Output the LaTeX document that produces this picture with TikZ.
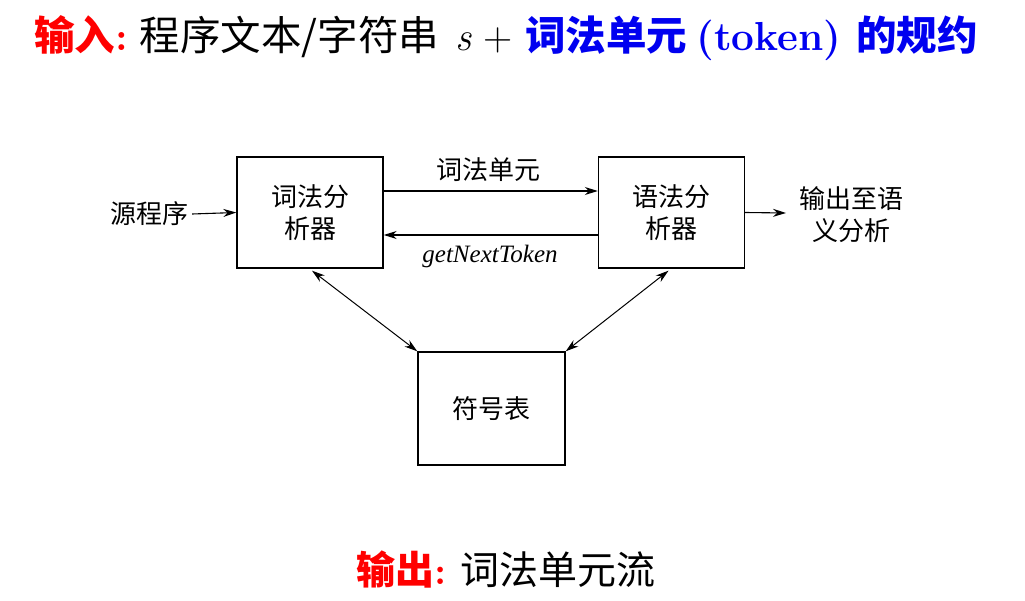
\documentclass[tikz,border=0pt]{standalone}
\usepackage{fontspec}
\usetikzlibrary{arrows.meta}
\newfontfamily\cjk{Noto Sans CJK SC}
\newfontfamily\tms{Liberation Serif}
\definecolor{tred}{RGB}{255,0,0}
\definecolor{tblue}{RGB}{0,0,240}
\begin{document}
\begin{tikzpicture}[x=1pt,y=-1pt,
  box/.style={draw,line width=1.4pt,minimum width=146pt,minimum height=111pt,inner sep=0pt,align=center,font=\cjk\fontsize{26}{32}\selectfont},
  lbl/.style={inner sep=0pt,align=center,font=\cjk\fontsize{26}{32}\selectfont},
  arr/.style={line width=1.1pt,-{Stealth[length=13pt,width=8pt]}},
  darr/.style={line width=1pt,{Stealth[length=13pt,width=8pt]}-{Stealth[length=13pt,width=8pt]}}]
\useasboundingbox (0,0) rectangle (1025,601);
\node[inner sep=0pt,anchor=center] (title) at (506,38) {\fontsize{40.5}{46}\selectfont
  \textcolor{tred}{\cjk\bfseries 输入\normalfont\bfseries:}\hspace{0.3em}\cjk 程序文本/字符串\hspace{0.4em}\normalfont\itshape s\upshape\hspace{0.3em}+\hspace{0.3em}\textcolor{tblue}{\cjk\bfseries 词法单元 \normalfont\bfseries(token) \cjk\bfseries 的规约}};
\node[box] (lex) at (310,212.5) {词法分\\析器};
\node[box] (par) at (671.5,212.5) {语法分\\析器};
\node[box,minimum width=147pt,minimum height=113pt] (sym) at (491.5,408.5) {符号表};
\node[lbl] (src) at (149,214) {源程序};
\node[lbl] (out) at (851,215) {输出至语\\义分析};
\coordinate (outend) at (786,213);
\node[lbl] (tok) at (488,170) {词法单元};
\node[inner sep=0pt,font=\tms\fontsize{25}{30}\selectfont\itshape] (gnt) at (490,256) {getNextToken};
\draw[arr] ([xshift=4pt]src.east) -- (lex.west);
\draw[arr] ([yshift=21.5pt]lex.east) -- ([yshift=21.5pt]par.west);
\draw[arr] ([yshift=-22.5pt]par.west) -- ([yshift=-22.5pt]lex.east);
\draw[arr] (par.east) -- (outend);
\draw[darr] ([xshift=2pt,yshift=-2pt]lex.south) -- (sym.north west);
\draw[darr] ([xshift=-3pt,yshift=-2pt]par.south) -- (sym.north east);
\node[inner sep=0pt] (bottom) at (506,570) {\fontsize{39}{46}\selectfont
  \textcolor{tred}{\cjk\bfseries 输出\normalfont\bfseries:}\hspace{0.35em}\cjk 词法单元流};
\end{tikzpicture}
\end{document}
